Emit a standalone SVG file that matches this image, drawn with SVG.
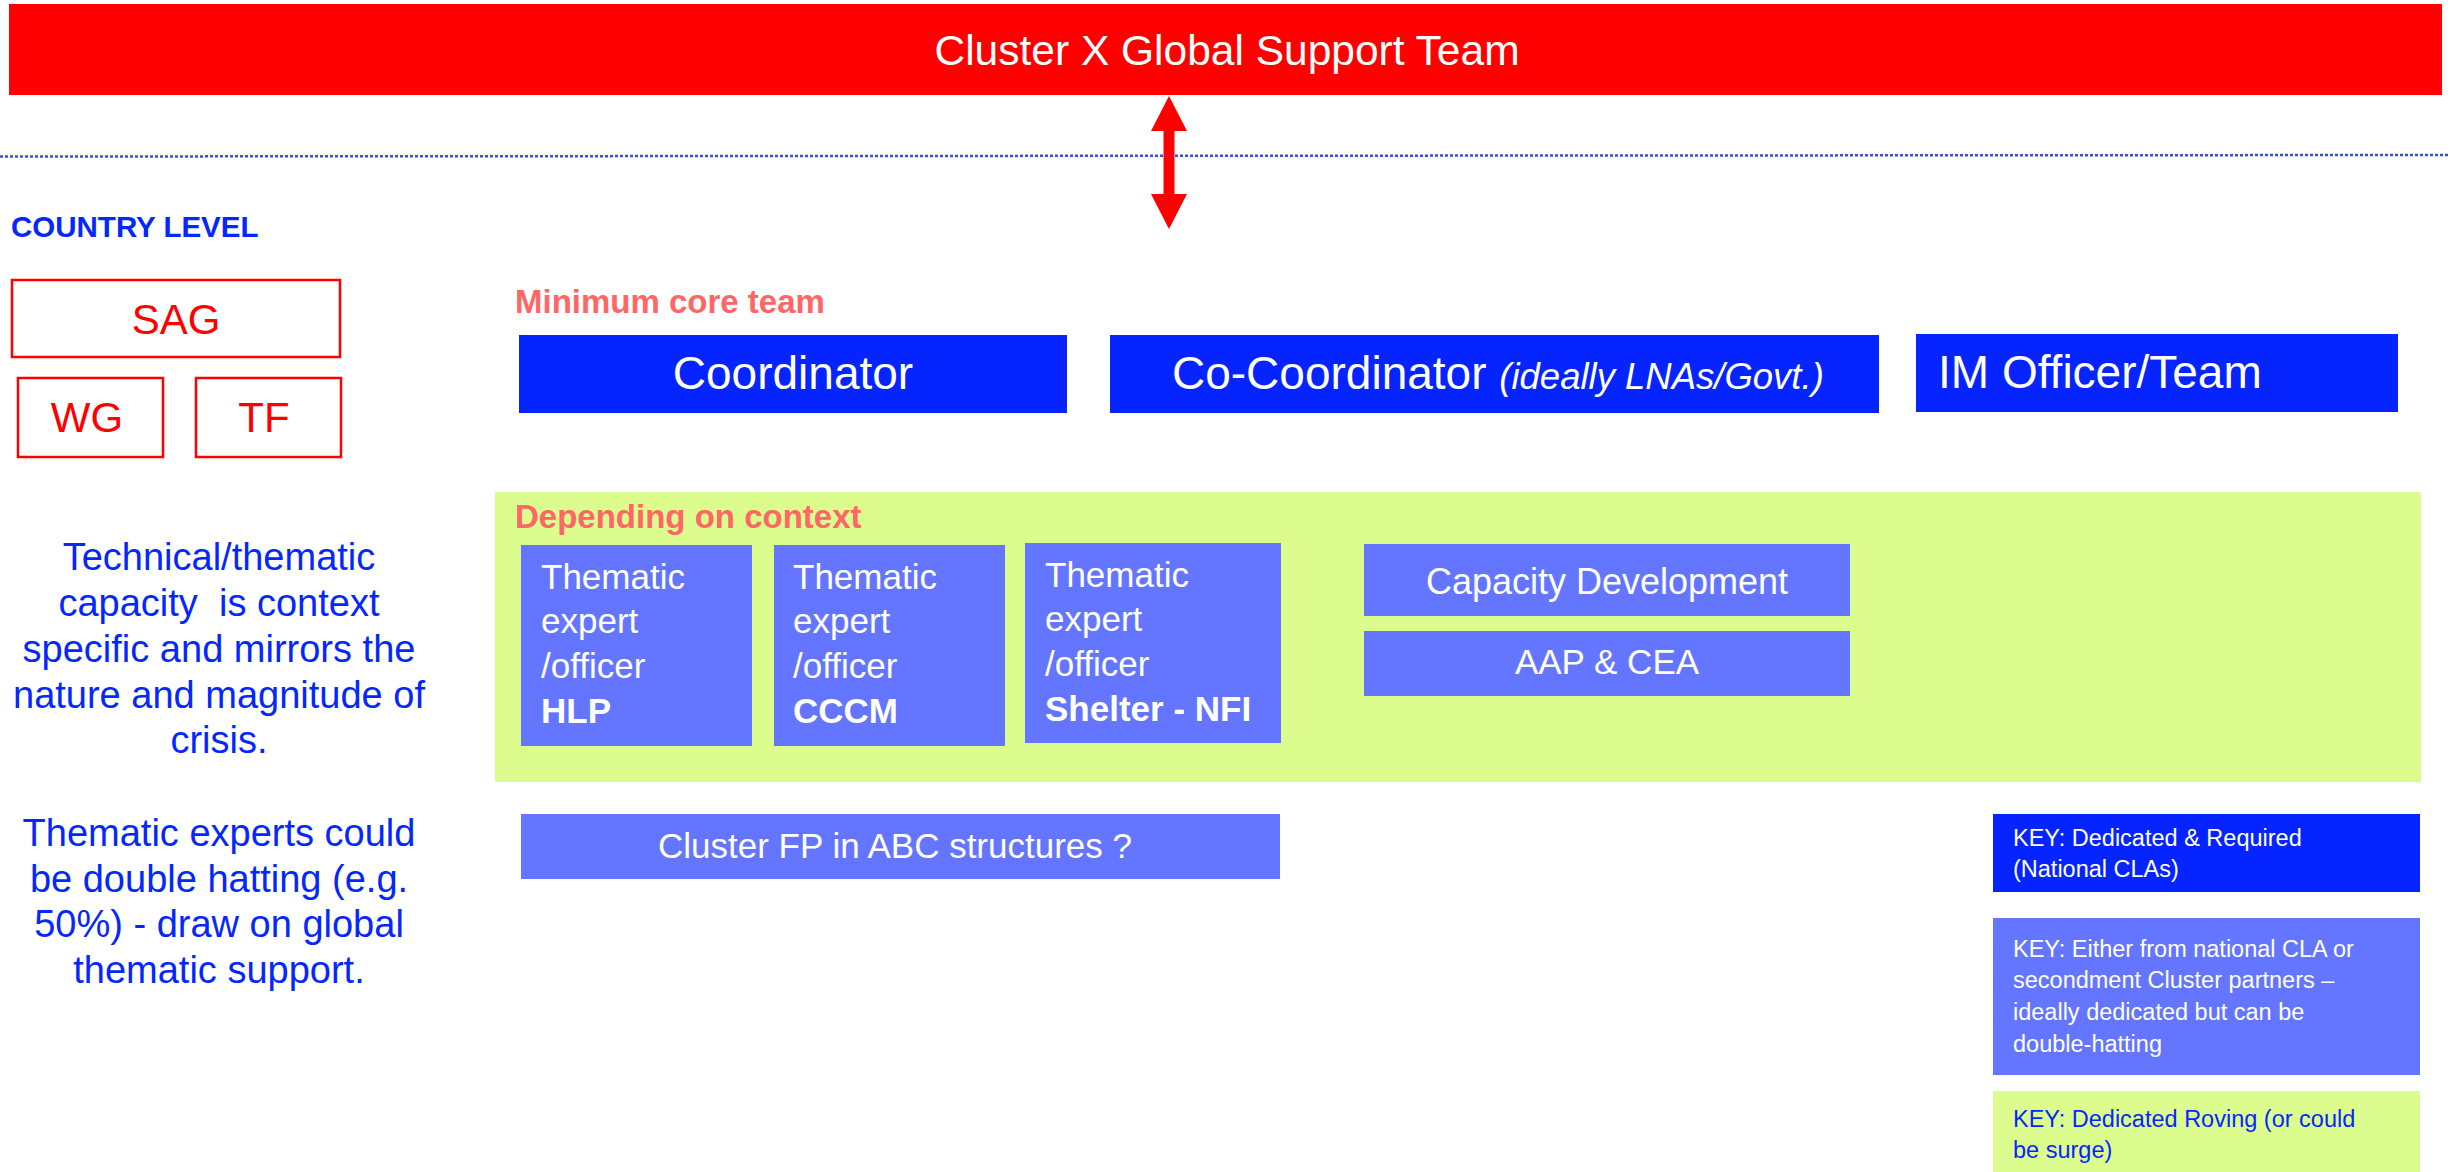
<svg xmlns="http://www.w3.org/2000/svg" width="2450" height="1172" viewBox="0 0 2450 1172">
<defs>
<style>
text{font-family:"Liberation Sans",Arial,sans-serif}
.w{fill:#FFFFFF}
.dark{fill:#0524FF}
.mid{fill:#6476FF}
.lime{fill:#DCFC8E}
.redbox{fill:#FFFFFF;stroke:#FF0000;stroke-width:2.5}
.redt{fill:#FF0000;font-size:42px}
.salmon{fill:#FF6666;font-weight:bold;font-size:33px}
.blue{fill:#0527FF}
.them{fill:#FFFFFF;font-size:35px}
.key{font-size:23.5px}
</style>
</defs>
<rect width="2450" height="1172" fill="#FFFFFF"/>

<g id="global-team">
<rect x="9" y="4" width="2433" height="91" fill="#FF0000"/>
<text x="1227" y="65" text-anchor="middle" class="w" font-size="42.5">Cluster X Global Support Team</text>
</g>

<g id="divider">
<line x1="0" y1="156.5" x2="2450" y2="155" stroke="#2F4FE6" stroke-width="2.5" stroke-dasharray="3 2"/>
</g>

<g id="connectors">
<line x1="1169" y1="128" x2="1169" y2="197" stroke="#FF0000" stroke-width="11"/>
<path d="M1169,96 L1187,131 L1151,131 Z" fill="#FF0000"/>
<path d="M1169,229 L1187,194 L1151,194 Z" fill="#FF0000"/>
</g>

<g id="country-level">
<text x="11" y="237" class="blue" font-weight="bold" font-size="29.5">COUNTRY LEVEL</text>
</g>

<g id="sag">
<rect x="12" y="280" width="328" height="77" class="redbox"/>
<text x="176" y="334" text-anchor="middle" class="redt">SAG</text>
</g>
<g id="wg">
<rect x="18" y="378" width="145" height="79" class="redbox"/>
<text x="87" y="432" text-anchor="middle" class="redt">WG</text>
</g>
<g id="tf">
<rect x="196" y="378" width="145" height="79" class="redbox"/>
<text x="264" y="432" text-anchor="middle" class="redt">TF</text>
</g>

<g id="context-note">
<text text-anchor="middle" class="blue" font-size="38"><tspan x="219" y="570">Technical/thematic</tspan><tspan x="219" y="616" style="white-space:pre">capacity  is context</tspan><tspan x="219" y="662">specific and mirrors the</tspan><tspan x="219" y="708">nature and magnitude of</tspan><tspan x="219" y="753">crisis.</tspan><tspan x="219" y="846">Thematic experts could</tspan><tspan x="219" y="892">be double hatting (e.g.</tspan><tspan x="219" y="937">50%) - draw on global</tspan><tspan x="219" y="983">thematic support.</tspan></text>
</g>

<g id="min-core-label">
<text x="515" y="313" class="salmon">Minimum core team</text>
</g>

<g id="coordinator">
<rect x="519" y="335" width="548" height="78" class="dark"/>
<text x="793" y="389" text-anchor="middle" class="w" font-size="46">Coordinator</text>
</g>
<g id="co-coordinator">
<rect x="1110" y="335" width="769" height="78" class="dark"/>
<text x="1172" y="389" class="w" font-size="46">Co-Coordinator <tspan font-style="italic" font-size="36.5">(ideally LNAs/Govt.)</tspan></text>
</g>
<g id="im-officer">
<rect x="1916" y="334" width="482" height="78" class="dark"/>
<text x="1938" y="388" class="w" font-size="46">IM Officer/Team</text>
</g>

<g id="context-area">
<rect x="495" y="492" width="1926" height="290" class="lime"/>
<text x="515" y="528" class="salmon">Depending on context</text>
</g>

<g id="expert-hlp">
<rect x="521" y="545" width="231" height="201" class="mid"/>
<text class="them"><tspan x="541" y="589">Thematic</tspan><tspan x="541" y="633">expert</tspan><tspan x="541" y="678">/officer</tspan><tspan x="541" y="723" font-weight="bold">HLP</tspan></text>
</g>
<g id="expert-cccm">
<rect x="774" y="545" width="231" height="201" class="mid"/>
<text class="them"><tspan x="793" y="589">Thematic</tspan><tspan x="793" y="633">expert</tspan><tspan x="793" y="678">/officer</tspan><tspan x="793" y="723" font-weight="bold">CCCM</tspan></text>
</g>
<g id="expert-shelter">
<rect x="1025" y="543" width="256" height="200" class="mid"/>
<text class="them"><tspan x="1045" y="587">Thematic</tspan><tspan x="1045" y="631">expert</tspan><tspan x="1045" y="676">/officer</tspan><tspan x="1045" y="721" font-weight="bold">Shelter - NFI</tspan></text>
</g>

<g id="capacity-development">
<rect x="1364" y="544" width="486" height="72" class="mid"/>
<text x="1607" y="594" text-anchor="middle" class="w" font-size="36">Capacity Development</text>
</g>
<g id="aap-cea">
<rect x="1364" y="631" width="486" height="65" class="mid"/>
<text x="1607" y="674" text-anchor="middle" class="w" font-size="35">AAP &amp; CEA</text>
</g>

<g id="cluster-fp">
<rect x="521" y="814" width="759" height="65" class="mid"/>
<text x="895" y="858" text-anchor="middle" class="w" font-size="35">Cluster FP in ABC structures ?</text>
</g>

<g id="key-dedicated">
<rect x="1993" y="814" width="427" height="78" class="dark"/>
<text class="w key"><tspan x="2013" y="846">KEY: Dedicated &amp; Required</tspan><tspan x="2013" y="877">(National CLAs)</tspan></text>
</g>
<g id="key-either">
<rect x="1993" y="918" width="427" height="157" class="mid"/>
<text class="w key"><tspan x="2013" y="957">KEY: Either from national CLA or</tspan><tspan x="2013" y="988">secondment Cluster partners –</tspan><tspan x="2013" y="1020">ideally dedicated but can be</tspan><tspan x="2013" y="1052">double-hatting</tspan></text>
</g>
<g id="key-roving">
<rect x="1993" y="1091" width="427" height="81" class="lime"/>
<text class="blue key" font-size="24.5"><tspan x="2013" y="1127">KEY: Dedicated Roving (or could</tspan><tspan x="2013" y="1158">be surge)</tspan></text>
</g>
</svg>
